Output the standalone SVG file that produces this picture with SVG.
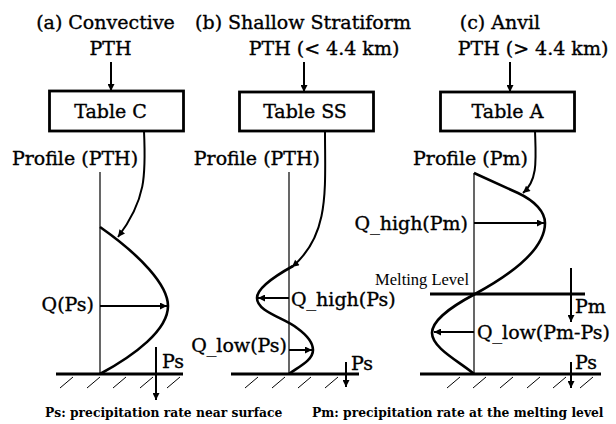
<svg xmlns="http://www.w3.org/2000/svg" width="616" height="424" viewBox="0 0 616 424">
<defs>
<marker id="ah" viewBox="0 0 10 10" refX="10" refY="5" markerWidth="9" markerHeight="7" markerUnits="userSpaceOnUse" orient="auto">
<path d="M0,0 L10,5 L0,10 z" fill="#000"/>
</marker>
<style>
text{font-family:"DejaVu Serif","Liberation Serif",serif;fill:#000}
.t{font-size:19px;stroke:#000;stroke-width:0.35}
.s{font-family:"Liberation Serif",serif;font-size:16.5px}
.f{font-size:12.3px;font-weight:bold}
.box{fill:#fff;stroke:#000;stroke-width:2.8}
.ax{stroke:#000;stroke-width:1.2;fill:none}
.pr{stroke:#000;stroke-width:2.6;fill:none}
.ar{stroke:#000;stroke-width:2;fill:none;marker-end:url(#ah)}
.gr{stroke:#000;stroke-width:2.8;fill:none}
.ht{stroke:#000;stroke-width:1;fill:none}
</style>
</defs>
<rect width="616" height="424" fill="#fff"/>

<g id="panel-a">
<text class="t" x="105.5" y="29" text-anchor="middle">(a) Convective</text>
<text class="t" x="110.5" y="55" text-anchor="middle">PTH</text>
<g id="tableC"><rect class="box" x="49.5" y="91" width="134" height="40"/>
<text class="t" x="110.5" y="118" text-anchor="middle">Table C</text></g>
<text class="t" x="75" y="165" text-anchor="middle">Profile (PTH)</text>
<line class="ax" x1="100" y1="172" x2="100" y2="374"/>
<path class="pr" d="M100,227 C140,255 168,285 168,306 C168,330 135,355 100,374"/>
<text class="t" x="94" y="311" text-anchor="end">Q(Ps)</text>
<path class="gr" d="M56,374 H183"/>
<path class="ht" d="M60,388 l13,-11 M87,388 l13,-11 M113,388 l13,-11 M140,388 l13,-11 M167,388 l13,-11"/>
<text class="t" x="162" y="368">Ps</text>
</g>

<g id="panel-b">
<text class="t" x="303" y="29" text-anchor="middle">(b) Shallow Stratiform</text>
<text class="t" x="324" y="55" text-anchor="middle">PTH (&lt; 4.4 km)</text>
<g id="tableSS"><rect class="box" x="239.5" y="92" width="134" height="39"/>
<text class="t" x="305" y="118" text-anchor="middle">Table SS</text></g>
<text class="t" x="320" y="165" text-anchor="end">Profile (PTH)</text>
<line class="ax" x1="289" y1="172" x2="289" y2="374"/>
<path class="pr" d="M293,266 C275,276 257,288 257,298 C257,312 285,318 297,328 C308,336 313,343 313,350 C313,360 300,366 289,374"/>
<text class="t" x="291" y="306">Q_high(Ps)</text>
<text class="t" x="287" y="352" text-anchor="end">Q_low(Ps)</text>
<path class="gr" d="M231,374 H359"/>
<path class="ht" d="M245,388 l13,-11 M272,388 l13,-11 M298,388 l13,-11 M325,388 l13,-11"/>
<text class="t" x="351" y="370">Ps</text>
</g>

<g id="panel-c">
<text class="t" x="500" y="29" text-anchor="middle">(c) Anvil</text>
<text class="t" x="533" y="55" text-anchor="middle">PTH (&gt; 4.4 km)</text>
<g id="tableA"><rect class="box" x="440.5" y="92" width="134" height="39"/>
<text class="t" x="507.5" y="118" text-anchor="middle">Table A</text></g>
<text class="t" x="528" y="165" text-anchor="end">Profile (Pm)</text>
<line class="ax" x1="474" y1="173" x2="474" y2="374"/>
<path class="pr" d="M474,173 L518,193 C535,201 545,212 545,223 C545,250 510,275 475,294 C445,310 432,322 432,333 C432,348 460,362 474,374"/>
<text class="t" x="468" y="230" text-anchor="end">Q_high(Pm)</text>
<line class="gr" x1="430" y1="294" x2="585" y2="294"/>
<text class="s" x="469" y="285" text-anchor="end">Melting Level</text>
<text class="t" x="575" y="313">Pm</text>
<text class="t" x="477" y="339">Q_low(Pm-Ps)</text>
<path class="gr" d="M420,374 H601"/>
<path class="ht" d="M447,388 l13,-11 M473,388 l13,-11 M500,388 l13,-11 M527,388 l13,-11 M553,388 l13,-11 M580,388 l13,-11"/>
<text class="t" x="575" y="369">Ps</text>
</g>

<g id="connectors">
<line class="ar" x1="111" y1="62" x2="111" y2="91"/>
<line class="ar" x1="304" y1="62" x2="304" y2="92"/>
<line class="ar" x1="510" y1="62" x2="510" y2="92"/>
<path class="ar" d="M144,131 C146,175 146,200 118,237"/>
<path class="ar" d="M325,131 C325,190 330,235 292,267"/>
<path class="ar" d="M535,131 C536,160 538,180 523,193"/>
<line class="ar" x1="100" y1="306" x2="167" y2="306"/>
<line class="ar" x1="289" y1="298" x2="258" y2="298"/>
<line class="ar" x1="289" y1="350" x2="312" y2="350"/>
<line class="ar" x1="474" y1="223" x2="544" y2="223"/>
<line class="ar" x1="474" y1="332" x2="434" y2="332"/>
<line class="ar" x1="156" y1="347" x2="156" y2="400"/>
<line class="ar" x1="346" y1="362" x2="346" y2="387"/>
<line class="ar" x1="571" y1="362" x2="571" y2="388"/>
<line class="ar" x1="571" y1="268" x2="571" y2="322"/>
</g>

<g id="legend">
<text class="f" x="45" y="417">Ps: precipitation rate near surface</text>
<text class="f" x="312" y="417">Pm: precipitation rate at the melting level</text>
</g>
</svg>
